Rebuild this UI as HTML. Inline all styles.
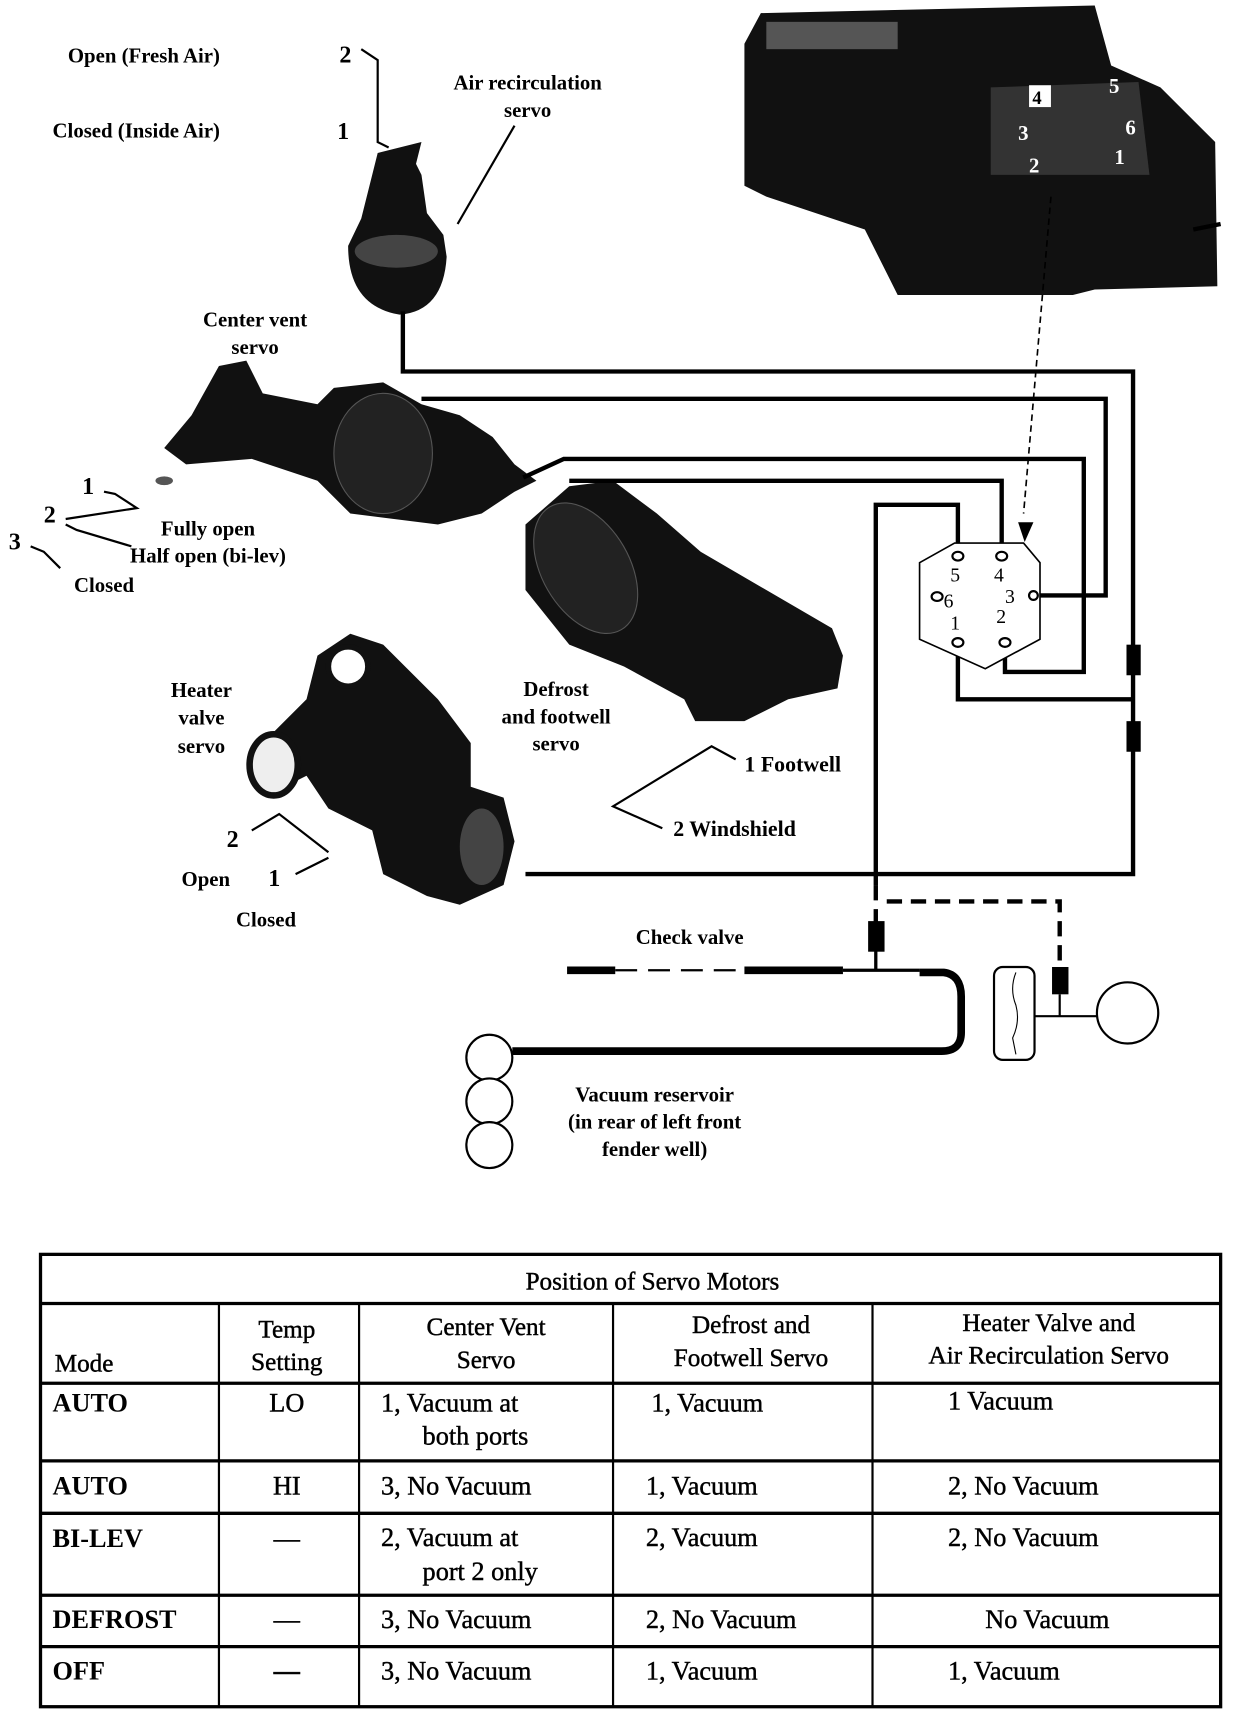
<!DOCTYPE html>
<html><head><meta charset="utf-8"><style>
html,body{margin:0;padding:0;background:#fff;}
svg{display:block}
text{font-family:"Liberation Serif",serif;font-weight:bold;fill:#000}
</style></head><body>
<svg width="1248" height="1710" viewBox="0 0 1140 1565" preserveAspectRatio="none" xmlns="http://www.w3.org/2000/svg">
<!-- top-right photo -->
<polygon points="680,40 695,12 1000,5 1015,60 1060,80 1110,130 1112,262 1000,265 980,270 820,270 790,210 700,180 680,170" fill="#111"/>
<polygon points="905,80 1040,75 1050,160 905,160" fill="#333"/>
<rect x="940" y="78" width="20" height="20" fill="#fff"/><text x="943" y="95" font-size="17">4</text>
<text x="930" y="128" font-size="19" style="fill:#fff">3</text>
<text x="940" y="158" font-size="19" style="fill:#fff">2</text>
<text x="1013" y="85" font-size="19" style="fill:#fff">5</text>
<text x="1028" y="123" font-size="19" style="fill:#fff">6</text>
<text x="1018" y="150" font-size="19" style="fill:#fff">1</text>
<rect x="700" y="20" width="120" height="25" fill="#555"/>
<line x1="1090" y1="210" x2="1115" y2="205" stroke="#000" stroke-width="4"/>
<line x1="960" y1="180" x2="935" y2="470" stroke="#000" stroke-width="1.5" stroke-dasharray="6,4"/>
<polygon points="930,478 944,478 936,496" fill="#000"/>

<text x="62" y="57" font-size="19">Open (Fresh Air)</text>
<text x="48" y="126" font-size="19">Closed (Inside Air)</text>
<text x="310" y="57" font-size="22">2</text>
<text x="308" y="127" font-size="22">1</text>
<polyline points="330,45 345,55 345,130 355,135" fill="none" stroke="#000" stroke-width="2"/>
<text x="482" y="82" font-size="19" text-anchor="middle">Air recirculation</text>
<text x="482" y="107" font-size="19" text-anchor="middle">servo</text>
<line x1="470" y1="115" x2="418" y2="205" stroke="#000" stroke-width="2"/>
<path d="M345,140 L385,130 L380,150 L385,160 L390,195 L405,215 L408,235 Q405,285 365,288 Q318,280 318,225 L330,200 L340,160 Z" fill="#111"/>
<ellipse cx="362" cy="230" rx="38" ry="15" fill="#444"/>

<text x="233" y="299" font-size="19" text-anchor="middle">Center vent</text>
<text x="233" y="324" font-size="19" text-anchor="middle">servo</text>
<path d="M150,410 L175,380 L200,335 L225,330 L240,360 L290,370 L305,355 L350,350 L385,370 L420,380 L450,400 L470,425 L490,440 L470,450 L440,470 L400,480 L320,470 L290,440 L230,420 L170,425 Z" fill="#111"/>
<ellipse cx="350" cy="415" rx="45" ry="55" fill="#222" stroke="#555"/>
<ellipse cx="150" cy="440" rx="8" ry="4" fill="#555"/>
<text x="75" y="452" font-size="22">1</text>
<text x="40" y="478" font-size="22">2</text>
<text x="8" y="503" font-size="22">3</text>
<polyline points="95,450 105,452 125,465 60,475" fill="none" stroke="#000" stroke-width="2"/>
<polyline points="60,480 70,485 120,500" fill="none" stroke="#000" stroke-width="2"/>
<polyline points="28,500 40,505 55,520" fill="none" stroke="#000" stroke-width="2"/>
<text x="190" y="490" font-size="19" text-anchor="middle">Fully open</text>
<text x="190" y="515" font-size="19" text-anchor="middle">Half open (bi-lev)</text>
<text x="95" y="542" font-size="19" text-anchor="middle">Closed</text>

<path d="M480,480 L520,445 L560,440 L600,470 L640,505 L700,540 L760,575 L770,600 L765,630 L720,640 L680,660 L635,660 L625,640 L570,610 L520,590 L480,540 Z" fill="#111"/>
<ellipse cx="535" cy="520" rx="40" ry="65" fill="#222" stroke="#555" transform="rotate(-30 535 520)"/>
<text x="508" y="637" font-size="19" text-anchor="middle">Defrost</text>
<text x="508" y="662" font-size="19" text-anchor="middle">and footwell</text>
<text x="508" y="687" font-size="19" text-anchor="middle">servo</text>
<polyline points="672,695 650,683 560,738 605,758" fill="none" stroke="#000" stroke-width="2"/>
<text x="680" y="706" font-size="20">1 Footwell</text>
<text x="615" y="765" font-size="20">2 Windshield</text>

<text x="184" y="638" font-size="19" text-anchor="middle">Heater</text>
<text x="184" y="663" font-size="19" text-anchor="middle">valve</text>
<text x="184" y="689" font-size="19" text-anchor="middle">servo</text>
<path d="M230,690 L280,640 L290,600 L320,580 L350,590 L400,640 L430,680 L430,720 L460,730 L470,770 L460,810 L420,828 L390,820 L350,800 L340,760 L300,740 L280,710 L250,725 Z" fill="#111"/>
<circle cx="318" cy="610" r="18" fill="#fff" stroke="#111" stroke-width="5"/>
<ellipse cx="250" cy="700" rx="22" ry="28" fill="#eee" stroke="#111" stroke-width="6"/>
<ellipse cx="440" cy="775" rx="20" ry="35" fill="#444"/>
<text x="207" y="775" font-size="22">2</text>
<text x="245" y="811" font-size="22">1</text>
<polyline points="230,760 255,745 300,780" fill="none" stroke="#000" stroke-width="2"/>
<polyline points="270,800 300,785" fill="none" stroke="#000" stroke-width="2"/>
<text x="188" y="811" font-size="19" text-anchor="middle">Open</text>
<text x="243" y="848" font-size="19" text-anchor="middle">Closed</text>

<g fill="none" stroke="#000" stroke-width="4">
<polyline points="368,285 368,340 1035,340 1035,800 480,800"/>
<polyline points="385,365 1010,365 1010,545 947,545"/>
<polyline points="478,437 515,420 990,420 990,615 918,615 918,590"/>
<polyline points="520,440 915,440 915,505"/>
<polyline points="875,505 875,462 800,462 800,810"/>
<polyline points="875,590 875,640 1035,640"/>
</g>
<rect x="1029" y="590" width="13" height="28" fill="#000"/>
<rect x="1029" y="660" width="13" height="28" fill="#000"/>
<polygon points="840,515 872,497 935,497 950,515 950,585 900,612 840,585" fill="#fff" stroke="#000" stroke-width="1.5"/>
<g fill="#fff" stroke="#000" stroke-width="2">
<ellipse cx="875" cy="509" rx="5" ry="4"/><ellipse cx="915" cy="509" rx="5" ry="4"/>
<ellipse cx="875" cy="588" rx="5" ry="4"/><ellipse cx="918" cy="588" rx="5" ry="4"/>
<ellipse cx="856" cy="546" rx="5" ry="4"/><ellipse cx="944" cy="545" rx="4" ry="4"/>
</g>
<g font-size="18" style="font-weight:normal">
<text x="868" y="532" style="font-weight:normal">5</text>
<text x="908" y="532" style="font-weight:normal">4</text>
<text x="918" y="552" style="font-weight:normal">3</text>
<text x="862" y="556" style="font-weight:normal">6</text>
<text x="868" y="576" style="font-weight:normal">1</text>
<text x="910" y="570" style="font-weight:normal">2</text>
</g>

<g fill="none" stroke="#000" stroke-width="4" stroke-dasharray="14,8">
<line x1="800" y1="810" x2="800" y2="845"/>
<polyline points="810,825 968,825 968,885"/>
</g>
<rect x="793" y="843" width="15" height="28" fill="#000"/>
<rect x="961" y="885" width="15" height="25" fill="#000"/>
<text x="630" y="864" font-size="19" text-anchor="middle">Check valve</text>
<line x1="518" y1="888" x2="562" y2="888" stroke="#000" stroke-width="7"/>
<line x1="562" y1="888" x2="680" y2="888" stroke="#000" stroke-width="2" stroke-dasharray="20,10"/>
<line x1="680" y1="888" x2="770" y2="888" stroke="#000" stroke-width="7"/>
<line x1="770" y1="888" x2="840" y2="888" stroke="#000" stroke-width="3"/>
<line x1="800" y1="870" x2="800" y2="888" stroke="#000" stroke-width="3"/>
<path d="M840,890 L862,890 Q878,892 878,912 L878,945 Q878,962 860,962 L468,962" fill="none" stroke="#000" stroke-width="7"/>
<circle cx="447" cy="968" r="21" fill="#fff" stroke="#000" stroke-width="2"/>
<circle cx="447" cy="1008" r="21" fill="#fff" stroke="#000" stroke-width="2"/>
<circle cx="447" cy="1048" r="21" fill="#fff" stroke="#000" stroke-width="2"/>
<text x="598" y="1008" font-size="19" text-anchor="middle">Vacuum reservoir</text>
<text x="598" y="1033" font-size="19" text-anchor="middle">(in rear of left front</text>
<text x="598" y="1058" font-size="19" text-anchor="middle">fender well)</text>
<rect x="908" y="885" width="37" height="85" rx="8" fill="#fff" stroke="#000" stroke-width="2"/>
<path d="M928,890 Q922,905 928,920 Q932,935 925,950 L928,965" fill="none" stroke="#000" stroke-width="1"/>
<line x1="945" y1="930" x2="1002" y2="930" stroke="#000" stroke-width="2"/>
<line x1="968" y1="910" x2="968" y2="930" stroke="#000" stroke-width="2"/>
<circle cx="1030" cy="927" r="28" fill="#fff" stroke="#000" stroke-width="2"/>

<g stroke="#000" fill="none">
<rect x="37" y="1148" width="1078" height="414" stroke-width="3"/>
<line x1="37" y1="1193" x2="1115" y2="1193" stroke-width="3"/>
<line x1="37" y1="1266" x2="1115" y2="1266" stroke-width="3"/>
<line x1="37" y1="1337" x2="1115" y2="1337" stroke-width="3"/>
<line x1="37" y1="1385" x2="1115" y2="1385" stroke-width="3"/>
<line x1="37" y1="1460" x2="1115" y2="1460" stroke-width="3"/>
<line x1="37" y1="1507" x2="1115" y2="1507" stroke-width="3"/>
<line x1="200" y1="1193" x2="200" y2="1562" stroke-width="2"/>
<line x1="328" y1="1193" x2="328" y2="1562" stroke-width="2"/>
<line x1="560" y1="1193" x2="560" y2="1562" stroke-width="2"/>
<line x1="797" y1="1193" x2="797" y2="1562" stroke-width="2"/>
</g>
<g font-size="23" stroke="#000" stroke-width="0.4">
<text x="596" y="1180" text-anchor="middle" style="font-weight:normal">Position of Servo Motors</text>
<text x="50" y="1255" style="font-weight:normal">Mode</text>
<text x="262" y="1224" text-anchor="middle" style="font-weight:normal">Temp</text>
<text x="262" y="1254" text-anchor="middle" style="font-weight:normal">Setting</text>
<text x="444" y="1222" text-anchor="middle" style="font-weight:normal">Center Vent</text>
<text x="444" y="1252" text-anchor="middle" style="font-weight:normal">Servo</text>
<text x="686" y="1220" text-anchor="middle" style="font-weight:normal">Defrost and</text>
<text x="686" y="1250" text-anchor="middle" style="font-weight:normal">Footwell Servo</text>
<text x="958" y="1218" text-anchor="middle" style="font-weight:normal">Heater Valve and</text>
<text x="958" y="1248" text-anchor="middle" style="font-weight:normal">Air Recirculation Servo</text>
</g>
<g font-size="24">
<text x="48" y="1292">AUTO</text><text x="48" y="1368">AUTO</text><text x="48" y="1416">BI-LEV</text><text x="48" y="1490">DEFROST</text><text x="48" y="1537">OFF</text>
</g>
<g font-size="24" stroke="#000" stroke-width="0.4">
<text x="262" y="1292" text-anchor="middle" style="font-weight:normal">LO</text>
<text x="262" y="1368" text-anchor="middle" style="font-weight:normal">HI</text>
<text x="262" y="1416" text-anchor="middle" style="font-weight:normal">—</text>
<text x="262" y="1490" text-anchor="middle" style="font-weight:normal">—</text>
<text x="262" y="1537" text-anchor="middle">—</text>
<text x="348" y="1292" style="font-weight:normal">1, Vacuum at</text>
<text x="386" y="1322" style="font-weight:normal">both ports</text>
<text x="348" y="1368" style="font-weight:normal">3, No Vacuum</text>
<text x="348" y="1415" style="font-weight:normal">2, Vacuum at</text>
<text x="386" y="1446" style="font-weight:normal">port 2 only</text>
<text x="348" y="1490" style="font-weight:normal">3, No Vacuum</text>
<text x="348" y="1537" style="font-weight:normal">3, No Vacuum</text>
<text x="595" y="1292" style="font-weight:normal">1,  Vacuum</text>
<text x="590" y="1368" style="font-weight:normal">1, Vacuum</text>
<text x="590" y="1415" style="font-weight:normal">2, Vacuum</text>
<text x="590" y="1490" style="font-weight:normal">2, No Vacuum</text>
<text x="590" y="1537" style="font-weight:normal">1, Vacuum</text>
<text x="866" y="1290" style="font-weight:normal">1 Vacuum</text>
<text x="866" y="1368" style="font-weight:normal">2, No Vacuum</text>
<text x="866" y="1415" style="font-weight:normal">2, No Vacuum</text>
<text x="900" y="1490" style="font-weight:normal">No Vacuum</text>
<text x="866" y="1537" style="font-weight:normal">1, Vacuum</text>
</g>
</svg>
</body></html>
